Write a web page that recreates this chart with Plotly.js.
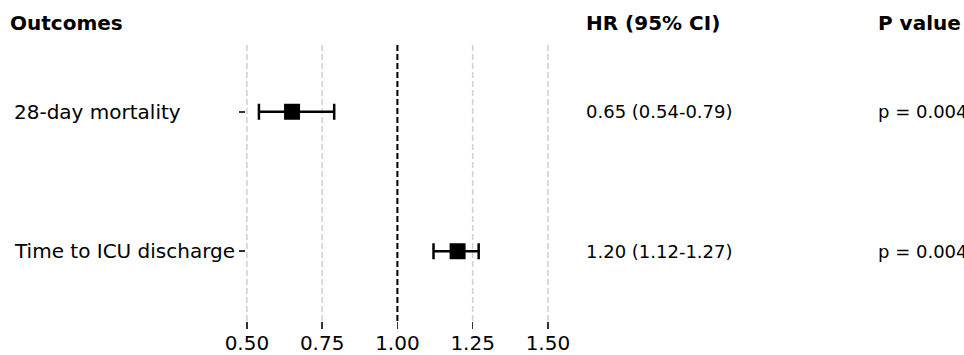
<!DOCTYPE html>
<html><head><meta charset="utf-8">
<script src="https://cdn.plot.ly/plotly-3.0.1.min.js"></script>
<style>html,body{margin:0;padding:0;background:#fff;}#chart{width:964px;height:355px;}</style>
</head><body><div id="chart"></div>
<script>
// Data
const outcomes = ["28-day mortality", "Time to ICU discharge"];
const hr = [0.65, 1.20];
const ciLow = [0.54, 1.12];
const ciHigh = [0.79, 1.27];
const hrText = ["0.65 (0.54-0.79)", "1.20 (1.12-1.27)"];
const pText = ["p = 0.004", "p = 0.004"];
const headers = ["Outcomes", "HR (95% CI)", "P value"];
const xTicks = [0.5, 0.75, 1.0, 1.25, 1.5];
const xTickText = ["0.50", "0.75", "1.00", "1.25", "1.50"];

const W = 964, H = 355;
const mL = 246, mR = 964 - 565, mT = 42, mB = 34;
const plotW = W - mL - mR, plotH = H - mT - mB;
const pxX = p => (p - mL) / plotW;
const pxY = p => 1 - (p - mT) / plotH;

// y positions: first outcome on top
const yPos = outcomes.map((_, i) => outcomes.length - 1 - i);

const trace = {
  type: "scatter", mode: "markers",
  x: hr, y: yPos,
  marker: {symbol: "square", size: 16, color: "#000"},
  error_x: {
    type: "data", symmetric: false,
    array: hr.map((v, i) => ciHigh[i] - v),
    arrayminus: hr.map((v, i) => v - ciLow[i]),
    color: "#000", thickness: 2.5, width: 8
  },
  hoverinfo: "skip", showlegend: false
};

const font = "DejaVu Sans, sans-serif";
const annotations = [];
const headerX = [8, 584, 876];
headers.forEach((h, i) => annotations.push({
  text: "<b>" + h + "</b>", xref: "paper", yref: "paper",
  x: pxX(headerX[i]), y: pxY(23), xanchor: "left", yanchor: "middle",
  showarrow: false, font: {family: font, size: 20, color: "#000"}
}));
outcomes.forEach((o, i) => {
  annotations.push({
    text: o, xref: "paper", yref: "y", x: pxX(12), y: yPos[i],
    xanchor: "left", yanchor: "middle", showarrow: false,
    font: {family: font, size: 20, color: "#000"}
  });
  annotations.push({
    text: hrText[i], xref: "paper", yref: "y", x: pxX(584), y: yPos[i],
    xanchor: "left", yanchor: "middle", showarrow: false,
    font: {family: font, size: 18, color: "#000"}
  });
  annotations.push({
    text: pText[i], xref: "paper", yref: "y", x: pxX(876), y: yPos[i],
    xanchor: "left", yanchor: "middle", showarrow: false,
    font: {family: font, size: 18, color: "#000"}
  });
});

const shapes = xTicks.map(t => ({
  type: "line", xref: "x", yref: "paper", x0: t, x1: t, y0: 0, y1: 1,
  line: {color: "#d0d0d0", width: 1.5, dash: "6px,3px"}, layer: "below"
}));
shapes.push({
  type: "line", xref: "x", yref: "paper", x0: 1, x1: 1, y0: 0, y1: 1,
  line: {color: "#000", width: 2, dash: "6px,3px"}
});

const layout = {
  width: W, height: H,
  margin: {l: mL, r: mR, t: mT, b: mB, pad: 0},
  paper_bgcolor: "#fff", plot_bgcolor: "#fff",
  font: {family: font, size: 20, color: "#000"},
  xaxis: {
    range: [0.497, 0.497 + plotW / 301], tickvals: xTicks, ticktext: xTickText,
    showgrid: false, zeroline: false, showline: false,
    ticks: "outside", ticklen: 7, tickcolor: "#333", tickwidth: 1.5,
    ticklabelstandoff: -3,
    tickfont: {family: font, size: 20, color: "#000"}
  },
  yaxis: {
    range: [-0.5, 1.5], tickvals: yPos, ticktext: outcomes.map(() => ""),
    showgrid: false, zeroline: false, showline: false,
    ticks: "outside", ticklen: 6, tickcolor: "#333", tickwidth: 2
  },
  shapes: shapes,
  annotations: annotations
};

Plotly.newPlot("chart", [trace], layout, {staticPlot: true, displayModeBar: false});
</script></body></html>
